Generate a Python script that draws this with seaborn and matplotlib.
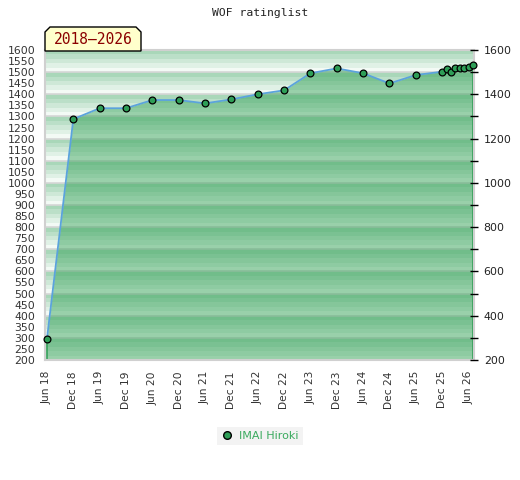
import numpy as np
import pandas as pd
import matplotlib
matplotlib.use("Agg")
import matplotlib.pyplot as plt
import seaborn as sns
from matplotlib.patches import Polygon
from matplotlib.lines import Line2D
from matplotlib.colors import to_rgb

# ---- data ----
periods = ["2018-06", "2018-12", "2019-06", "2019-12", "2020-06", "2020-12",
           "2021-06", "2021-12", "2022-06", "2022-12", "2023-06", "2023-12",
           "2024-06", "2024-12", "2025-06", "2025-12", "2026-01", "2026-02",
           "2026-03", "2026-04", "2026-05", "2026-06", "2026-07"]
ratings = [296, 1288, 1337, 1337, 1374, 1374, 1359, 1377, 1400, 1418, 1495,
           1517, 1495, 1449, 1487, 1502, 1513, 1501, 1517, 1517, 1519, 1525, 1534]
tick_periods = ["2018-06", "2018-12", "2019-06", "2019-12", "2020-06", "2020-12",
                "2021-06", "2021-12", "2022-06", "2022-12", "2023-06", "2023-12",
                "2024-06", "2024-12", "2025-06", "2025-12", "2026-06"]
tick_labels = ["Jun 18", "Dec 18", "Jun 19", "Dec 19", "Jun 20", "Dec 20",
               "Jun 21", "Dec 21", "Jun 22", "Dec 22", "Jun 23", "Dec 23",
               "Jun 24", "Dec 24", "Jun 25", "Dec 25", "Jun 26"]
player = "IMAI Hiroki"
title = "WOF ratinglist"
span_label = "2018\u20132026"

def month_index(p, base="2018-06"):
    a = pd.Period(p, freq="M")
    b = pd.Period(base, freq="M")
    return (a - b).n

df = pd.DataFrame({"month": [month_index(p) for p in periods], "rating": ratings})
tick_pos = [month_index(p) for p in tick_periods]

sns.set_style("white")
plt.rcParams["font.family"] = ["DejaVu Sans"]

W, H = 520, 480
fig = plt.figure(figsize=(W / 100, H / 100), dpi=100)
ax = fig.add_axes([45 / W, 1 - 360 / H, (474 - 45) / W, (360 - 50) / H])

ymin, ymax = 200, 1600
xmin, xmax = -0.45, 97.25

# striped background: every 100 units, dark at top -> light at bottom
dark = np.array(to_rgb("#a9d7b9"))
light = np.array(to_rgb("#f3faf5"))
rows = []
nsub = 5
for v in np.arange(ymax - 10, ymin, -20):
    k = int(((v - ymin) % 100) // 20)  # 0 bottom .. 4 top
    f = k / (nsub - 1)
    rows.append(light + f * (dark - light))
img = np.array(rows)[:, None, :]
ax.imshow(img, extent=[xmin, xmax, ymin, ymax], aspect="auto",
          interpolation="nearest", zorder=0)
for g in range(ymin + 100, ymax, 100):
    ax.axhline(g, color="#d6d6d6", lw=1.2, zorder=0.5)

# area fill
ax.fill_between(df["month"], df["rating"], ymin, color="#2f9f53", alpha=0.46,
                lw=0, zorder=1)
ax.vlines([df["month"].iloc[0], df["month"].iloc[-1]], ymin,
          [df["rating"].iloc[0], df["rating"].iloc[-1]],
          color="#2e9e55", lw=1.2, zorder=1.5)

sns.lineplot(data=df, x="month", y="rating", ax=ax, color="#5ba3dc", lw=1.3,
             zorder=2, legend=False)
sns.scatterplot(data=df, x="month", y="rating", ax=ax, color="#2e9e57",
                edgecolor="black", linewidth=0.9, s=24, zorder=3, legend=False,
                clip_on=False)

ax.set_xlim(xmin, xmax)
ax.set_ylim(ymin, ymax)
ax.set_xlabel("")
ax.set_ylabel("")
ax.set_yticks(range(ymin, ymax + 1, 50))
ax.set_yticklabels([str(v) for v in range(ymin, ymax + 1, 50)])
ax.tick_params(axis="y", length=0, pad=7, labelsize=7.8, labelcolor="#333333")
ax.set_xticks(tick_pos)
ax.set_xticklabels(tick_labels, rotation=90)
ax.tick_params(axis="x", length=0, pad=8, labelsize=7.7, labelcolor="#333333")
for sp in ax.spines.values():
    sp.set_color("#d0d0d0")
    sp.set_linewidth(1.5)

ax2 = ax.twinx()
ax2.set_ylim(ymin, ymax)
ax2.set_yticks(range(ymin, ymax + 1, 200))
ax2.set_yticks(range(ymin + 100, ymax, 200), minor=True)
ax2.tick_params(axis="y", which="both", direction="inout", length=6, width=1,
                color="black", pad=4, labelsize=7.9, labelcolor="#222222")
for sp in ax2.spines.values():
    sp.set_visible(False)

# title
fig.text(0.5, 1 - 13 / H, title, ha="center", va="center",
         family="DejaVu Sans Mono", fontsize=8.2, color="#222222")

# year box with clipped top corners
bx0, bx1, by0, by1, c = 45, 141, 51, 27, 5
pts = [(bx0, by0), (bx0, by1 + c), (bx0 + c, by1), (bx1 - c, by1),
       (bx1, by1 + c), (bx1, by0)]
pts = [(x / W, 1 - y / H) for x, y in pts]
fig.patches.append(Polygon(pts, closed=True, transform=fig.transFigure,
                           facecolor="#ffffcc", edgecolor="black", lw=1,
                           zorder=5))
fig.text((bx0 + bx1) / 2 / W, 1 - 40 / H, span_label, ha="center",
         va="center", family="DejaVu Sans Mono", fontsize=10.5,
         color="#8b0000", zorder=6)

# legend
handle = Line2D([], [], marker="o", ls="none", markerfacecolor="#2e9e57",
                markeredgecolor="black", markersize=5.5)
leg = fig.legend([handle], [player], loc="center",
                 bbox_to_anchor=(260 / W, 1 - 436 / H), frameon=True,
                 fancybox=False, facecolor="#f0f0f0", edgecolor="#f0f0f0",
                 fontsize=8, labelcolor="#3aaa5e", handletextpad=0.6,
                 handlelength=1.0, borderpad=0.4)
leg.get_frame().set_linewidth(0)

fig.savefig("out.png", dpi=100)
